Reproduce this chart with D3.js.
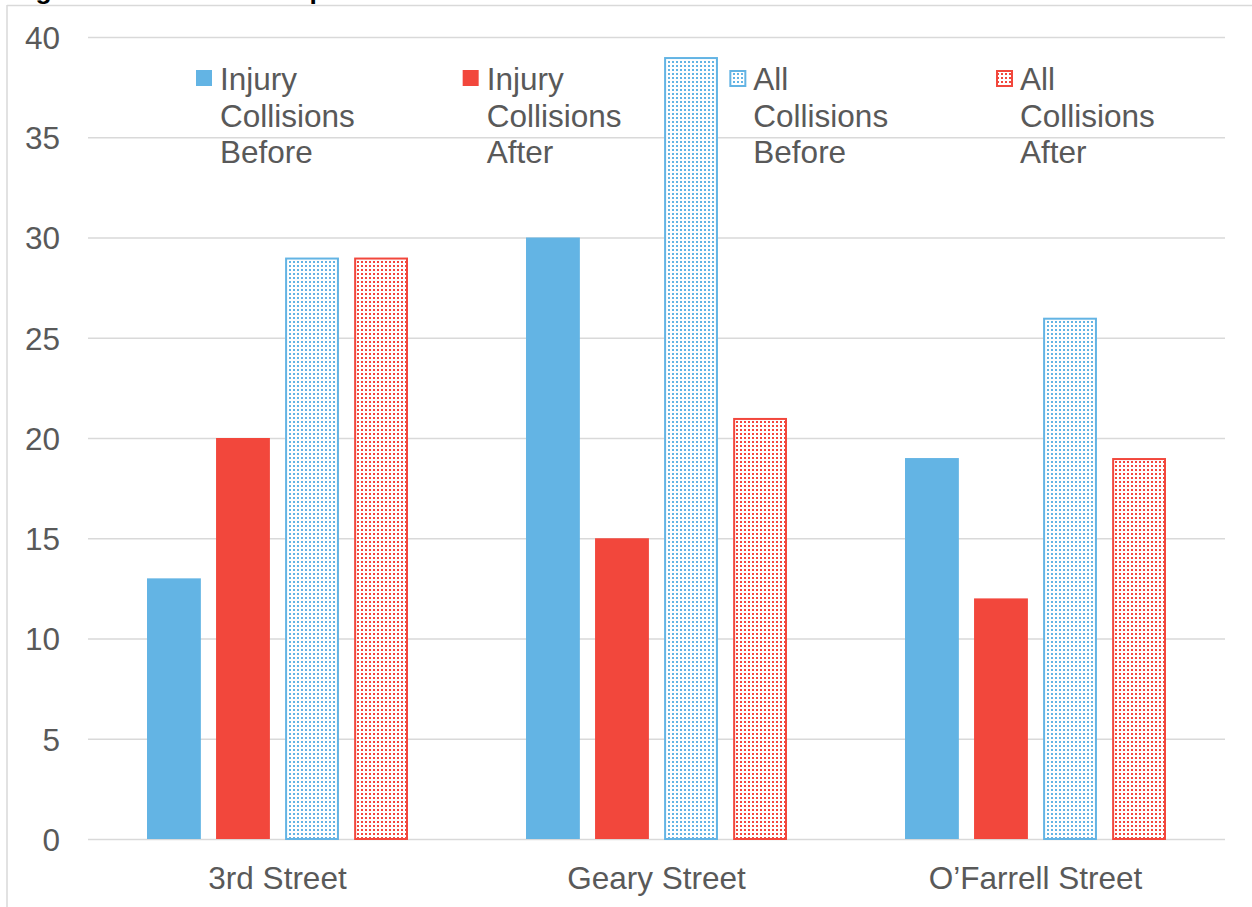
<!DOCTYPE html>
<html><head><meta charset="utf-8">
<script src="https://cdn.jsdelivr.net/npm/d3@7"></script>
<style>
html,body{margin:0;padding:0;background:#fff;overflow:hidden;}
svg{display:block;font-family:"Liberation Sans",Arial,sans-serif;}
</style></head>
<body>
<svg id="chart" width="1252" height="907"></svg>
<script>
const categories = ["3rd Street", "Geary Street", "O\u2019Farrell Street"];
const seriesNames = ["Injury Collisions Before", "Injury Collisions After", "All Collisions Before", "All Collisions After"];
const injuryBefore = [13, 30, 19];
const injuryAfter = [20, 15, 12];
const allBefore = [29, 39, 26];
const allAfter = [29, 21, 19];
const yTicks = [0, 5, 10, 15, 20, 25, 30, 35, 40];
const legendLines = [["Injury","Collisions","Before"],["Injury","Collisions","After"],["All","Collisions","Before"],["All","Collisions","After"]];
const titleText = "Figure 2: Collision Comparison";

const seriesValues = [injuryBefore, injuryAfter, allBefore, allAfter];
const seriesColor = ["#63B4E4", "#F2473C", "#63B4E4", "#F2473C"];
const seriesPattern = [false, false, true, true];

const svg = d3.select("#chart");
const textColor = "#595959";
const gridColor = "#d9d9d9";
const fs = "31.5px";

// patterns
const defs = svg.append("defs");
["blue","red"].forEach((n,i)=>{
  const c = i===0 ? seriesColor[0] : seriesColor[1];
  const p = defs.append("pattern").attr("id","dots-"+n).attr("patternUnits","userSpaceOnUse")
    .attr("width",4).attr("height",4);
  p.append("rect").attr("width",4).attr("height",4).attr("fill","#fff");
  p.append("rect").attr("x",1).attr("y",1).attr("width",2).attr("height",2).attr("fill",c);
});
const fillFor = i => seriesPattern[i] ? (i===2 ? "url(#dots-blue)" : "url(#dots-red)") : seriesColor[i];

// title (cut off at top)
svg.append("text").attr("x",12).attr("y",-1.5)
  .attr("font-size","26.5px").attr("font-weight","bold").attr("fill","#000").text(titleText);

// frame
svg.append("line").attr("x1",7).attr("x2",1252).attr("y1",5.5).attr("y2",5.5).attr("stroke",gridColor).attr("stroke-width",1.5);
svg.append("line").attr("x1",7).attr("x2",7).attr("y1",5).attr("y2",907).attr("stroke",gridColor).attr("stroke-width",1.5);

const plotL = 88, plotR = 1225;
const y = d3.scaleLinear().domain([0,40]).range([839,37]);
const x0 = d3.scaleBand().domain(categories).range([plotL, plotR]).paddingInner(0).paddingOuter(0);
const bw0 = x0.bandwidth();
const x1 = d3.scaleBand().domain(d3.range(4)).range([bw0*0.1557, bw0*(1-0.1557)]).paddingInner(0.22).paddingOuter(0);

// gridlines
const yAxis = d3.axisLeft(y).tickValues(yTicks).tickSize(-(plotR-plotL)).tickPadding(28);
const ga = svg.append("g").attr("transform",`translate(${plotL},0)`).call(yAxis);
ga.select(".domain").remove();
ga.selectAll(".tick line").attr("stroke",gridColor).attr("stroke-width",1.5);
ga.selectAll(".tick text").attr("fill",textColor).attr("font-size",fs).attr("font-family","Liberation Sans, Arial, sans-serif").attr("dy","0.36em");

// bars
const groups = svg.append("g").selectAll("g").data(categories).join("g")
  .attr("transform", d => `translate(${x0(d)},0)`);
groups.each(function(cat, ci){
  const g = d3.select(this);
  seriesValues.forEach((vals, si)=>{
    const v = vals[ci];
    const bx = x1(si), w = x1.bandwidth();
    if (seriesPattern[si]) {
      g.append("rect").attr("x",bx+1).attr("y",y(v)+1).attr("width",w-2).attr("height",y(0)-y(v)-1)
        .attr("fill",fillFor(si)).attr("stroke",seriesColor[si]).attr("stroke-width",2);
    } else {
      g.append("rect").attr("x",bx).attr("y",y(v)).attr("width",w).attr("height",y(0)-y(v))
        .attr("fill",seriesColor[si]);
    }
  });
});

// x axis labels
const xAxis = d3.axisBottom(x0).tickSize(0).tickPadding(0);
const gx = svg.append("g").attr("transform",`translate(0,889)`).call(xAxis);
gx.select(".domain").remove();
gx.selectAll(".tick text").attr("fill",textColor).attr("font-size",fs).attr("font-family","Liberation Sans, Arial, sans-serif").attr("dy",0).attr("y",0);

// legend
const legX = d3.scaleLinear().domain([0,3]).range([196, 996]);
const leg = svg.append("g");
seriesNames.forEach((name, i)=>{
  const lx = legX(i);
  if (seriesPattern[i]) {
    leg.append("rect").attr("x",lx+1).attr("y",71).attr("width",15).attr("height",15)
      .attr("fill",fillFor(i)).attr("stroke",seriesColor[i]).attr("stroke-width",2);
  } else {
    leg.append("rect").attr("x",lx).attr("y",70).attr("width",16).attr("height",16).attr("fill",seriesColor[i]);
  }
  const t = leg.append("text").attr("x",lx+24).attr("y",90).attr("fill",textColor).attr("font-size",fs);
  legendLines[i].forEach((ln, j)=>{
    t.append("tspan").attr("x",lx+24).attr("y",90 + j*36.5).text(ln);
  });
});
</script>
</body></html>
